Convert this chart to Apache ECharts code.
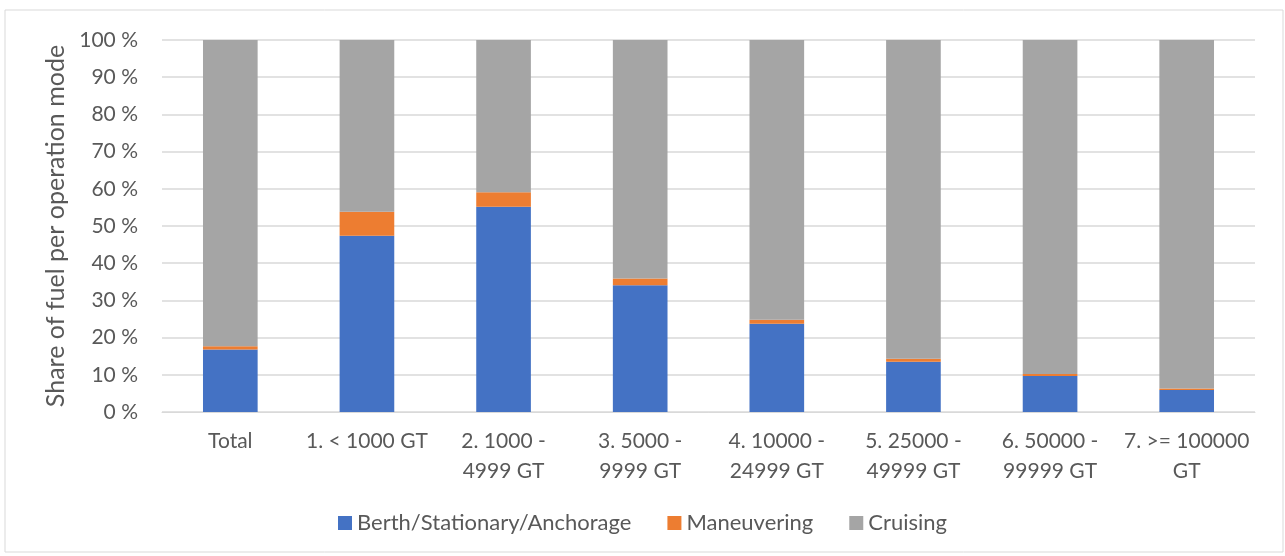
<!DOCTYPE html>
<html>
<head>
<meta charset="utf-8">
<script src="https://cdn.jsdelivr.net/npm/echarts@6/dist/echarts.min.js"></script>
<style>
  html, body { margin: 0; padding: 0; background: #fff; }
  #chart { width: 1285px; height: 556px; }
</style>
</head>
<body>
<div id="chart"></div>
<script>
const categories = [
  'Total',
  '1. < 1000 GT',
  '2. 1000 -\n4999 GT',
  '3. 5000 -\n9999 GT',
  '4. 10000 -\n24999 GT',
  '5. 25000 -\n49999 GT',
  '6. 50000 -\n99999 GT',
  '7. >= 100000\nGT'
]
const berth = [16.8, 47.4, 55.2, 34.1, 23.7, 13.5, 9.7, 5.9]
const maneuvering = [0.9, 6.4, 3.9, 1.8, 1.1, 0.8, 0.5, 0.4]
const cruising = [82.3, 46.2, 40.9, 64.1, 75.2, 85.7, 89.8, 93.7]
const yTicks = { min: 0, max: 100, interval: 10 }

const font = 'Lato, "Open Sans", sans-serif'
const textColor = '#595959'

const chart = echarts.init(document.getElementById('chart'), null, { renderer: 'canvas' })

function barSeries(name, data, color) {
  return {
    name: name,
    type: 'bar',
    stack: 'fuel',
    barWidth: '40%',
    data: data,
    itemStyle: { color: color },
    silent: true
  }
}

chart.setOption({
  animation: false,
  textStyle: { fontFamily: font },
  graphic: [{
    type: 'rect',
    shape: { x: 5, y: 10, width: 1278, height: 542 },
    style: { fill: 'none', stroke: '#d9d9d9', lineWidth: 1 },
    silent: true
  }],
  grid: {
    left: 162,
    right: 30,
    top: 40,
    bottom: 144
  },
  legend: {
    bottom: 17,
    left: 'center',
    itemWidth: 14,
    itemHeight: 14,
    itemGap: 36,
    icon: 'rect',
    textStyle: { fontSize: 22, color: textColor, fontFamily: font },
    data: ['Berth/Stationary/Anchorage', 'Maneuvering', 'Cruising']
  },
  xAxis: {
    type: 'category',
    data: categories,
    axisLine: { lineStyle: { color: '#d9d9d9' } },
    axisTick: { show: false },
    axisLabel: {
      color: textColor,
      fontSize: 21,
      fontFamily: font,
      margin: 14,
      lineHeight: 30,
      interval: 0
    }
  },
  yAxis: {
    type: 'value',
    min: yTicks.min,
    max: yTicks.max,
    interval: yTicks.interval,
    name: 'Share of fuel per operation mode',
    nameLocation: 'middle',
    nameGap: 93,
    nameTextStyle: { fontSize: 25, color: textColor, fontFamily: font },
    axisLine: { show: false },
    axisTick: { show: false },
    axisLabel: {
      formatter: '{value} %',
      color: textColor,
      fontSize: 21,
      fontFamily: font,
      margin: 24
    },
    splitLine: { lineStyle: { color: '#d9d9d9', width: 1.5 } }
  },
  series: [
    barSeries('Berth/Stationary/Anchorage', berth, '#4472c4'),
    barSeries('Maneuvering', maneuvering, '#ed7d31'),
    barSeries('Cruising', cruising, '#a5a5a5')
  ]
})
</script>
</body>
</html>
